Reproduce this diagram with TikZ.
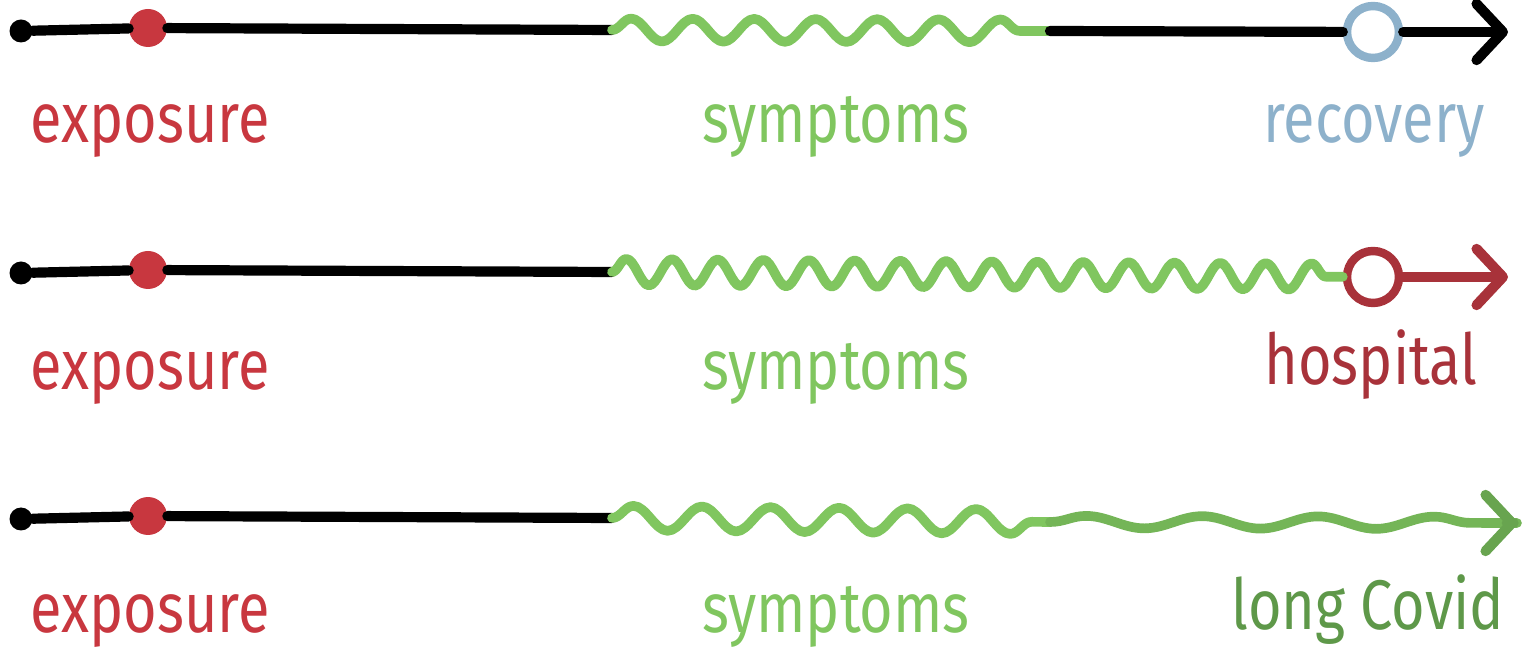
\documentclass[tikz,border=0pt]{standalone}
\usepackage{fontspec}
\usepackage{tikz}
\usepackage{xcolor}
\usetikzlibrary{arrows.meta,decorations.pathmorphing}
\newfontfamily\handfont[FakeStretch=0.82]{Fira Sans}
\definecolor{exposred}{HTML}{C8373F}
\definecolor{sympgreen}{HTML}{80C65F}
\definecolor{recblue}{HTML}{8DB1CB}
\definecolor{hospred}{HTML}{A8323A}
\definecolor{covidgreen}{HTML}{5E9849}
\definecolor{arrowgreen}{HTML}{68A44F}

\begin{document}
\begin{tikzpicture}[x=0.02cm, y=-0.02cm,
  every node/.style={font=\handfont\fontsize{40}{40}\selectfont},
  tline/.style={line width=5.8pt, line cap=round},
  wave/.style 2 args={line width=5.5pt, draw=sympgreen, line cap=round, line join=round, decorate,
    decoration={snake, amplitude=#1, segment length=#2}},
  tip/.style={-{Straight Barb[length=15pt, width=32pt, line cap=round, line join=round]}},
  startdot/.style={circle, fill=black, inner sep=0pt, minimum size=0.46cm},
  exdot/.style={circle, fill=exposred, inner sep=0pt, minimum size=0.76cm},
  ring/.style={circle, draw=#1, line width=4.8pt, fill=white, inner sep=0pt, minimum size=1.04cm},
  lbl/.style={anchor=base, inner sep=0pt, text=#1}]
  \useasboundingbox (0,0) rectangle (1522,661);
  % recovery
  \node[startdot] (s1) at (21,31) {};
  \node[exdot] (x1) at (148,28) {};
  \coordinate (w1) at (612,30);
  \coordinate (v1) at (1050,31);
  \node[ring=recblue] (r1) at (1373,32) {};
  \coordinate (t1) at (1508,32);
  \draw[tline] (s1) -- (x1) -- (w1);
  \draw[wave={6.5pt}{35pt}] (w1) -- (v1);
  \draw[tline] (v1) -- (r1);
  \draw[tline, tip] (r1) -- (t1);
  \node[lbl=exposred] (e1) at (150,143) {exposure};
  \node[lbl=sympgreen] (y1) at (836,143) {symptoms};
  \node[lbl=recblue] (c1) at (1374,143) {recovery};
  % hospital
  \node[startdot] (s2) at (21,273) {};
  \node[exdot] (x2) at (148,270) {};
  \coordinate (w2) at (612,272);
  \node[ring=hospred] (r2) at (1373,277) {};
  \coordinate (t2) at (1508,277);
  \draw[tline] (s2) -- (x2) -- (w2);
  \draw[wave={7.5pt}{26pt}] (w2) -- (r2);
  \draw[tline, draw=hospred, tip] (r2) -- (t2);
  \node[lbl=exposred] (e2) at (150,390) {exposure};
  \node[lbl=sympgreen] (y2) at (836,390) {symptoms};
  \node[lbl=hospred] (h2) at (1371,385) {hospital};
  % long Covid
  \node[startdot] (s3) at (21,519) {};
  \node[exdot] (x3) at (148,516) {};
  \coordinate (w3) at (612,518);
  \coordinate (v3) at (1050,522);
  \coordinate (t3) at (1517,523);
  \draw[tline] (s3) -- (x3) -- (w3);
  \draw[wave={7pt}{39pt}] (w3) -- (v3);
  \draw[wave={3.5pt}{66pt}, draw=sympgreen!50!arrowgreen] (v3) -- (t3);
  \draw[tline, draw=arrowgreen, tip] ([xshift=-2pt]t3) -- (t3);
  \node[lbl=exposred] (e3) at (150,633) {exposure};
  \node[lbl=sympgreen] (y3) at (836,633) {symptoms};
  \node[lbl=covidgreen] (l3) at (1368,630) {long Covid};
\end{tikzpicture}
\end{document}
